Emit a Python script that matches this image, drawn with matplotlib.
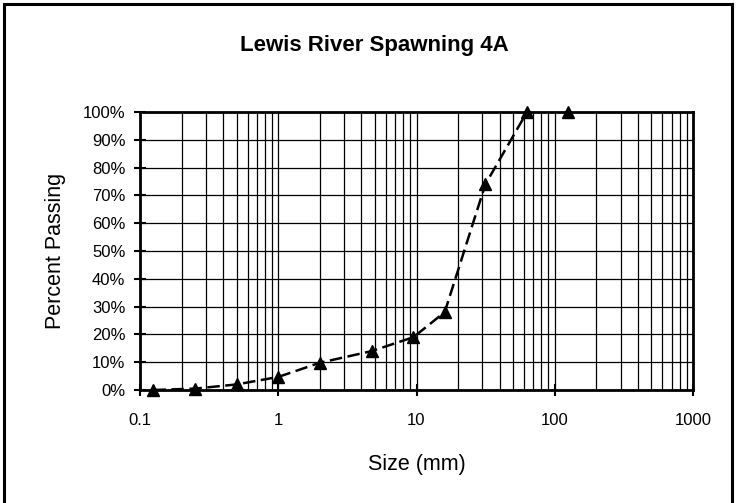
import numpy as np
import matplotlib
matplotlib.use("Agg")
import matplotlib.pyplot as plt
from matplotlib.ticker import FixedLocator, FixedFormatter, LogLocator, PercentFormatter, NullFormatter
from matplotlib.lines import Line2D

plt.rcParams['font.family'] = ['Liberation Sans', 'DejaVu Sans']

# sieve sizes (mm) and percent passing
sizes = [0.125, 0.25, 0.5, 1, 2, 4.75, 9.5, 16, 31.5, 63, 125]
passing = [0, 0.5, 2, 4.7, 9.8, 14, 19, 28, 74, 100, 100]
# the dashed line stops at 63 mm, the last point stands alone
n_joined = 10

xticks = [0.1, 1, 10, 100, 1000]
xlabels = ['0.1', '1', '10', '100', '1000']
yticks = [0, 10, 20, 30, 40, 50, 60, 70, 80, 90, 100]

fig = plt.figure(figsize=(7.36, 5.03), dpi=100)
ax = fig.add_axes([140/736, 113/503, 553/736, 278/503])

ax.plot(sizes[:n_joined], passing[:n_joined], color='black', lw=1.8,
        ls=(0, (5, 2.2)), zorder=3)
ax.plot(sizes, passing, ls='none', marker='^', ms=8, color='black',
        zorder=4, clip_on=False)

ax.set_xscale('log')
ax.set_xlim(0.1, 1000)
ax.set_ylim(0, 100)

ax.xaxis.set_major_locator(FixedLocator(xticks))
ax.xaxis.set_major_formatter(FixedFormatter(xlabels))
ax.xaxis.set_minor_locator(LogLocator(base=10, subs=np.arange(2, 10)))
ax.xaxis.set_minor_formatter(NullFormatter())
ax.yaxis.set_major_locator(FixedLocator(yticks))
ax.yaxis.set_major_formatter(PercentFormatter(decimals=0))

ax.grid(which='major', axis='both', color='black', lw=0.9)
ax.grid(which='minor', axis='x', color='black', lw=0.9)
ax.set_axisbelow(True)

ax.tick_params(axis='both', which='major', direction='inout', length=9,
               width=1.5, labelsize=12, color='black')
ax.tick_params(axis='x', which='major', pad=12)
ax.tick_params(axis='y', which='major', pad=6)
ax.tick_params(axis='x', which='minor', length=0)
for s in ax.spines.values():
    s.set_linewidth(2)
    s.set_color('black')

ax.set_xlabel('Size (mm)', fontsize=15.5, labelpad=19)
ax.set_ylabel('Percent Passing', fontsize=15.5, labelpad=12)

fig.text(374/736, 1 - 45/503, 'Lewis River Spawning 4A', fontsize=16,
         fontweight='bold', ha='center', va='center')

# outer frame of the chart area (bottom edge is cut off)
x0, x1, yt = 4/736, 732/736, 1 - 4/503
fig.add_artist(Line2D([x0, x1], [yt, yt], color='black', lw=2.2, transform=fig.transFigure))
fig.add_artist(Line2D([x0, x0], [0, yt], color='black', lw=2.2, transform=fig.transFigure))
fig.add_artist(Line2D([x1, x1], [0, yt], color='black', lw=2.2, transform=fig.transFigure))

fig.savefig('out.png', dpi=100)
